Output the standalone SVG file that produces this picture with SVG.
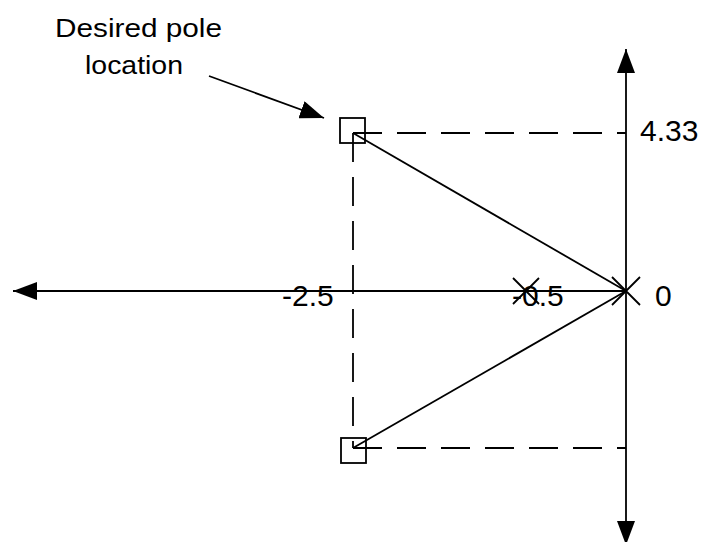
<svg xmlns="http://www.w3.org/2000/svg" width="703" height="542" viewBox="0 0 703 542">
<style>
.ln{stroke:#000;stroke-width:1.8;fill:none}
.ds{stroke:#000;stroke-width:1.8;fill:none;stroke-dasharray:29 15}
.lbl{font-family:"Liberation Sans",Arial,sans-serif;font-size:30px;fill:#000}
.cap{font-family:"Liberation Sans",Arial,sans-serif;font-size:26px;fill:#000}
</style>
<defs>
<marker id="ah" viewBox="0 0 24 18" refX="24" refY="9" markerWidth="24" markerHeight="18" markerUnits="userSpaceOnUse" orient="auto">
<path d="M0,0 L24,9 L0,18 Z" fill="#000"/>
</marker>
</defs>
<rect width="703" height="542" fill="#fff"/>
<g id="connectors">
<line class="ln" x1="626" y1="291" x2="13" y2="291" marker-end="url(#ah)"/>
<line class="ln" x1="626" y1="291" x2="626" y2="49" marker-end="url(#ah)"/>
<line class="ln" x1="626" y1="291" x2="626" y2="545" marker-end="url(#ah)"/>
<line class="ds" x1="353" y1="133" x2="626" y2="133"/>
<line class="ds" x1="353" y1="448" x2="626" y2="448"/>
<line class="ds" x1="353" y1="133" x2="353" y2="448"/>
<line class="ln" x1="353" y1="133" x2="626" y2="291"/>
<line class="ln" x1="353" y1="448" x2="626" y2="291"/>
<line class="ln" x1="209" y1="76" x2="324" y2="118" marker-end="url(#ah)"/>
</g>
<g id="pole-upper"><rect class="ln" x="340" y="118" width="25" height="25"/></g>
<g id="pole-lower"><rect class="ln" x="341" y="438" width="25" height="25"/></g>
<g id="x-origin"><path class="ln" d="M612,277 L640,305 M612,305 L640,277"/></g>
<g id="x-half"><path class="ln" d="M513,278 L539,304 M513,304 L539,278"/></g>
<g id="label-desired">
<text class="cap" x="55" y="37" textLength="167" lengthAdjust="spacingAndGlyphs">Desired pole</text>
<text class="cap" x="85" y="74" textLength="98" lengthAdjust="spacingAndGlyphs">location</text>
</g>
<g id="ticks">
<text class="lbl" x="640" y="141">4.33</text>
<text class="lbl" x="282" y="306">-2.5</text>
<text class="lbl" x="512" y="306">-0.5</text>
<text class="lbl" x="655" y="306">0</text>
</g>
</svg>
